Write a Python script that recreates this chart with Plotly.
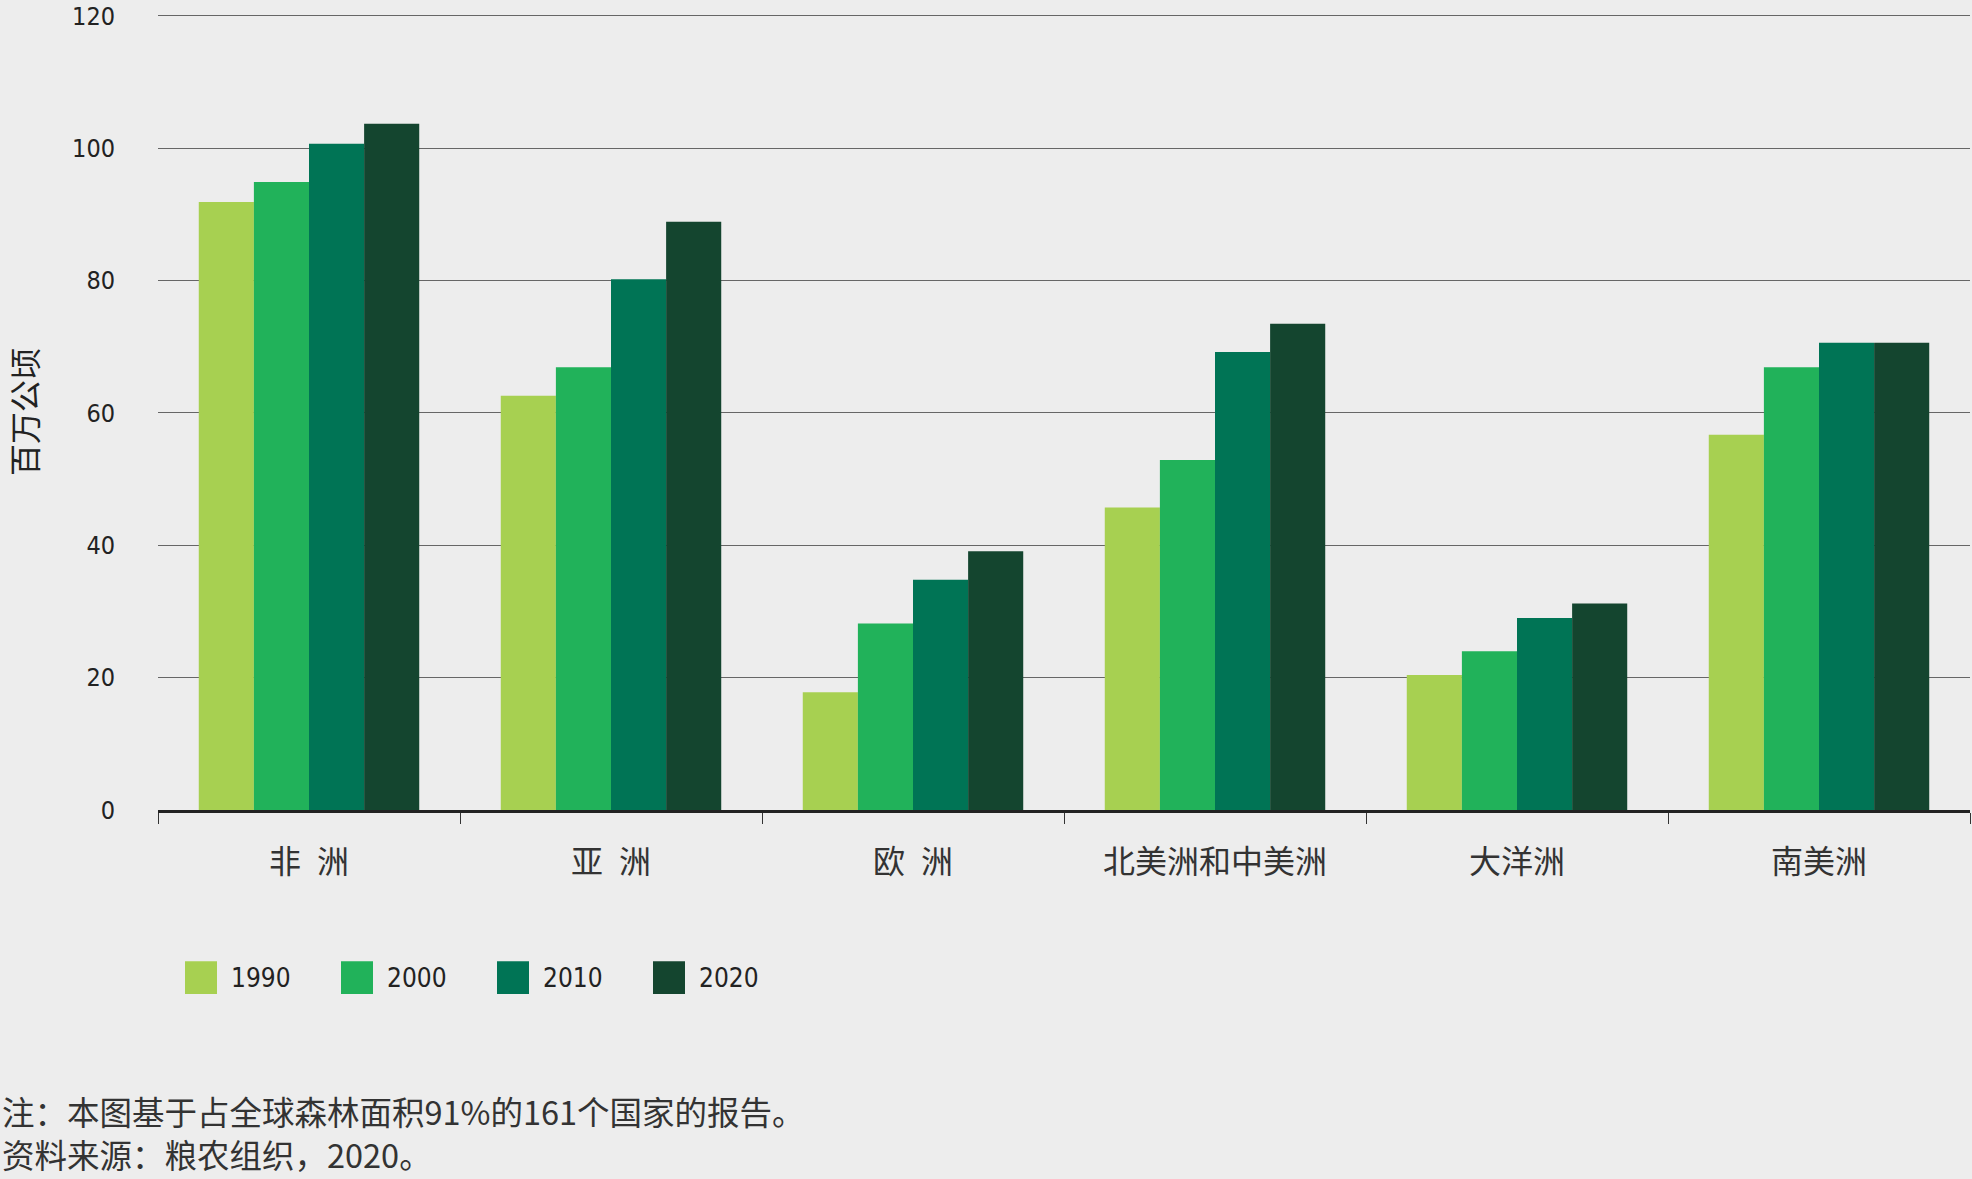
import plotly.graph_objects as go

regions = ["非\u2002洲", "亚\u2002洲", "欧\u2002洲", "北美洲和中美洲", "大洋洲", "南美洲"]
years = ["1990", "2000", "2010", "2020"]
v1990 = [91.9, 62.6, 17.8, 45.7, 20.4, 56.7]
v2000 = [94.9, 66.9, 28.2, 52.9, 24.0, 66.9]
v2010 = [100.7, 80.2, 34.8, 69.2, 29.0, 70.6]
v2020 = [103.7, 88.9, 39.1, 73.5, 31.2, 70.6]
colors = ["#A7D051", "#21B25A", "#007455", "#14452F"]
yticks = [0, 20, 40, 60, 80, 100, 120]
ytitle = "百万公顷"
note1 = "注：本图基于占全球森林面积91%的161个国家的报告。"
note2 = "资料来源：粮农组织，2020。"

series = [v1990, v2000, v2010, v2020]

W, H = 1972, 1179
L, R, T, B = 158, 2, 10, 369
pw, ph = W - L - R, H - T - B

def px(x):
    return (x - L) / pw

def py(y):
    return (H - B - y) / ph

CJK = "Noto Sans CJK SC, Noto Sans, sans-serif"
NUM = "Liberation Sans Narrow, DejaVu Sans Condensed, Roboto, sans-serif"

fig = go.Figure()
for yr, vals, c in zip(years, series, colors):
    fig.add_trace(go.Bar(x=regions, y=vals, name=yr, marker=dict(color=c, line=dict(width=0)),
                         showlegend=False))

# manual legend (large square swatches)
sq_x = [185, 341, 497, 653]
for yr, c, x0 in zip(years, colors, sq_x):
    fig.add_shape(type="rect", xref="paper", yref="paper",
                  x0=px(x0), x1=px(x0 + 32), y0=py(962), y1=py(995),
                  fillcolor=c, line=dict(width=0))
    fig.add_annotation(xref="paper", yref="paper", x=px(x0 + 44), y=py(979),
                       text=yr, showarrow=False, xanchor="left", yanchor="middle",
                       font=dict(family=NUM, size=26, color="#222"))

fig.add_annotation(xref="paper", yref="paper", x=px(0), y=py(1112), text=note1,
                   showarrow=False, xanchor="left", yanchor="middle",
                   font=dict(family=CJK, size=32.5, color="#333"))
fig.add_annotation(xref="paper", yref="paper", x=px(0), y=py(1155), text=note2,
                   showarrow=False, xanchor="left", yanchor="middle",
                   font=dict(family=CJK, size=32.5, color="#333"))

fig.update_layout(
    width=W, height=H,
    margin=dict(l=L, r=R, t=T, b=B, pad=0),
    paper_bgcolor="#EDEDED", plot_bgcolor="#EDEDED",
    barmode="group", bargap=0.27, bargroupgap=0,
    xaxis=dict(
        showgrid=False, tickson="boundaries", ticks="outside", ticklen=11,
        tickcolor="#333", tickwidth=1, showline=True, linecolor="#222", linewidth=3,
        tickfont=dict(family=CJK, size=32, color="#333"), ticklabelstandoff=22,
    ),
    yaxis=dict(
        range=[0, 120.3], tickvals=yticks, ticktext=[str(t) for t in yticks],
        showgrid=True, gridcolor="#666666", gridwidth=1.3,
        zeroline=False, showline=False, ticks="",
        tickfont=dict(family=NUM, size=25, color="#222"), ticklabelstandoff=42,
        ticklabeloverflow="allow",
        title=dict(text=ytitle, font=dict(family=CJK, size=32, color="#222"), standoff=34),
    ),
)

fig.write_html("out.html", config={"displayModeBar": False},
               post_script="document.body.style.margin='0';document.body.style.padding='0';")
